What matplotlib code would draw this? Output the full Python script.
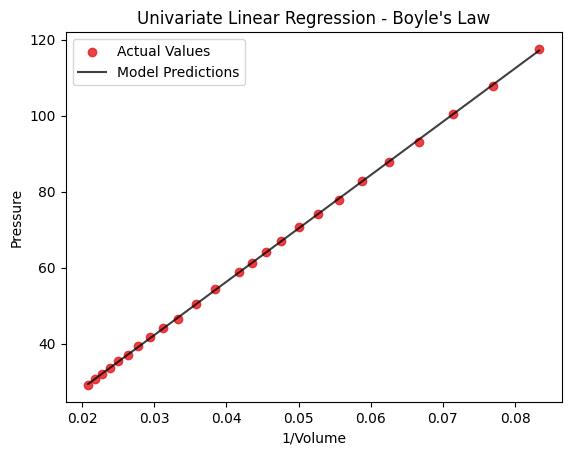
import numpy as np
import matplotlib
matplotlib.use('Agg')
import matplotlib.pyplot as plt

# Boyle's data: volume and pressure
volume = [48, 46, 44, 42, 40, 38, 36, 34, 32, 30, 28, 26, 24,
          23, 22, 21, 20, 19, 18, 17, 16, 15, 14, 13, 12]
pressure = [29.125, 30.5625, 31.9375, 33.5, 35.3125, 36.9375, 39.3125,
            41.625, 44.1875, 46.5625, 50.3125, 54.3125, 58.8125, 61.3125,
            64.0625, 67.0625, 70.6875, 74.125, 77.875, 82.75, 87.875,
            93.0625, 100.4375, 107.8125, 117.5625]

x = 1 / np.array(volume, dtype=float)
y = np.array(pressure)

slope, intercept = np.polyfit(x, y, 1)
pred = slope * x + intercept

fig, ax = plt.subplots(figsize=(6.4, 4.8), dpi=100)
ax.scatter(x, y, color='#e32227', alpha=0.85, label='Actual Values')
ax.plot(x, pred, color='black', alpha=0.75, label='Model Predictions')
ax.set_xlabel('1/Volume')
ax.set_ylabel('Pressure')
ax.set_title("Univariate Linear Regression - Boyle's Law")
ax.legend()
plt.savefig('out.png', bbox_inches='tight')
plt.close()
